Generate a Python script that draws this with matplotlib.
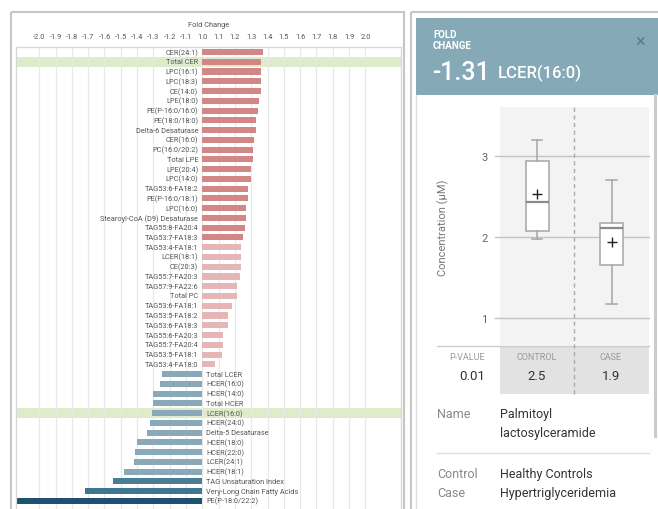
import matplotlib
matplotlib.use("Agg")
import matplotlib.pyplot as plt
from matplotlib.patches import Rectangle

plt.rcParams['font.family'] = ['Roboto', 'DejaVu Sans']

# fold change rows, top to bottom
pos_labels = ["CER(24:1)", "Total CER", "LPC(16:1)", "LPC(18:3)", "CE(14:0)", "LPE(18:0)",
              "PE(P-16:0/16:0)", "PE(18:0/18:0)", "Delta-6 Desaturase", "CER(16:0)",
              "PC(16:0/20:2)", "Total LPE", "LPE(20:4)", "LPC(14:0)", "TAG53:6-FA18:2",
              "PE(P-16:0/18:1)", "LPC(16:0)", "Stearoyl-CoA (D9) Desaturase", "TAG55:8-FA20:4",
              "TAG53:7-FA18:3", "TAG53:4-FA18:1", "LCER(18:1)", "CE(20:3)", "TAG55:7-FA20:3",
              "TAG57:9-FA22:6", "Total PC", "TAG53:6-FA18:1", "TAG53:5-FA18:2", "TAG53:6-FA18:3",
              "TAG55:6-FA20:3", "TAG55:7-FA20:4", "TAG53:5-FA18:1", "TAG53:4-FA18:0"]
pos_values = [1.37, 1.36, 1.36, 1.36, 1.36, 1.35, 1.34, 1.33, 1.33, 1.32, 1.31, 1.31, 1.30,
              1.30, 1.28, 1.28, 1.27, 1.27, 1.26, 1.25, 1.24, 1.24, 1.24, 1.23, 1.21, 1.21,
              1.18, 1.16, 1.16, 1.13, 1.13, 1.12, 1.08]
pos_signif = [True] * 20 + [False] * 13

neg_labels = ["Total LCER", "HCER(16:0)", "HCER(14:0)", "Total HCER", "LCER(16:0)", "HCER(24:0)",
              "Delta-5 Desaturase", "HCER(18:0)", "HCER(22:0)", "LCER(24:1)", "HCER(18:1)",
              "TAG Unsaturation Index", "Very-Long Chain Fatty Acids", "PE(P-18:0/22:2)"]
neg_values = [-1.25, -1.26, -1.30, -1.30, -1.31, -1.32, -1.34, -1.40, -1.41, -1.42, -1.48,
              -1.55, -1.72, -2.14]
neg_shade = [0] * 11 + [1, 2, 3]

highlight = ["Total CER", "LCER(16:0)"]
tick_vals = [-2.0, -1.9, -1.8, -1.7, -1.6, -1.5, -1.4, -1.3, -1.2, -1.1,
             1.0, 1.1, 1.2, 1.3, 1.4, 1.5, 1.6, 1.7, 1.8, 1.9, 2.0]

# selected metabolite: box plot summary
groups = ["CONTROL", "CASE"]
box_stats = [
    dict(whislo=1.98, q1=2.08, med=2.44, q3=2.94, whishi=3.20, mean=2.53),
    dict(whislo=1.17, q1=1.66, med=2.11, q3=2.18, whishi=2.71, mean=1.94),
]
sel_name = "LCER(16:0)"
sel_fc = "-1.31"
p_value = "0.01"
group_means = ["2.5", "1.9"]

W, H = 658, 510


def rect(x0, y0, x1, y1):
    return [x0 / W, 1 - y1 / H, (x1 - x0) / W, (y1 - y0) / H]


def fc_pos(v):
    # fold changes below -1 and above 1 meet at the centre line
    return v - 1 if v > 0 else v + 1


fig = plt.figure(figsize=(W / 100, H / 100), dpi=100)

# frame / panel decorations in pixel coordinates
bg = fig.add_axes([0, 0, 1, 1])
bg.set_xlim(0, W)
bg.set_ylim(H, 0)
bg.axis("off")
bg.add_patch(Rectangle((10.5, 12.5), 393.5, 520, fill=False, ec="#c6c6c6", lw=1.5))
bg.add_patch(Rectangle((410.5, 12.5), 260, 520, fill=False, ec="#c6c6c6", lw=1.5))
bg.plot([416, 416], [96, 520], color="#dddddd", lw=1)
bg.add_patch(Rectangle((416, 19), 250, 77, color="#85a9b6", lw=0))
bg.plot([655, 655], [96, 437], color="#cccccc", lw=2.2)
bg.text(433, 35, "FOLD", color="white", fontsize=7, fontweight="bold", va="center")
bg.text(433, 46, "CHANGE", color="white", fontsize=7, fontweight="bold", va="center")
bg.text(432, 73, sel_fc, color="white", fontsize=18, fontweight="medium", va="center")
bg.text(498, 73, sel_name, color="white", fontsize=12, fontweight="medium", va="center")
bg.text(640, 42, "\u00d7", color="#5f7a84", fontsize=13, ha="center", va="center")

# table under the box plot
bg.add_patch(Rectangle((500, 347), 148.7, 48, color="#e2e2e2", lw=0))
bg.plot([437, 648.7], [347, 347], color="#cccccc", lw=1)
bg.text(467, 358, "P-VALUE", color="#999999", fontsize=6.5, ha="center", va="center")
bg.text(485, 377, p_value, color="#333333", fontsize=9.5, ha="right", va="center")
for cx, g, m in zip([537, 611], groups, group_means):
    bg.text(cx, 358, g, color="#999999", fontsize=6.5, ha="center", va="center")
    bg.text(cx, 377, m, color="#333333", fontsize=9.5, ha="center", va="center")

bg.text(437, 415, "Name", color="#888888", fontsize=9, va="center")
bg.text(500, 415, "Palmitoyl", color="#333333", fontsize=9, va="center")
bg.text(500, 434, "lactosylceramide", color="#333333", fontsize=9, va="center")
bg.plot([437, 648.7], [454, 454], color="#dddddd", lw=1)
bg.text(437, 475, "Control", color="#888888", fontsize=9, va="center")
bg.text(500, 475, "Healthy Controls", color="#333333", fontsize=9, va="center")
bg.text(437, 494, "Case", color="#888888", fontsize=9, va="center")
bg.text(500, 494, "Hypertriglyceridemia", color="#333333", fontsize=9, va="center")

# ---- fold change bar chart ----
ax = fig.add_axes(rect(16, 48, 401, 510))
labels = pos_labels + neg_labels
values = pos_values + neg_values
pos_cols = ["#d28686" if s else "#e6b6b6" for s in pos_signif]
neg_palette = ["#89a9b8", "#4b7d95", "#3f7791", "#1e506f"]
colors = pos_cols + [neg_palette[s] for s in neg_shade]
ypos = list(range(len(labels)))

for lab, y in zip(labels, ypos):
    if lab in highlight:
        ax.axhspan(y - 0.5, y + 0.5, color="#dfecca", lw=0, zorder=0)

ticks = [fc_pos(t) if t != 1.0 else 0 for t in tick_vals]
for t in ticks:
    ax.axvline(t, color="#e8e8e8", lw=0.9, zorder=1)

ax.barh(ypos, [fc_pos(v) for v in values], height=0.62, color=colors, zorder=2)
for lab, y, v in zip(labels, ypos, values):
    if v > 0:
        ax.annotate(lab, (0, y), xytext=(-3, 0), textcoords="offset points",
                    ha="right", va="center", fontsize=5.3, color="#555555")
    else:
        ax.annotate(lab, (0, y), xytext=(3, 0), textcoords="offset points",
                    ha="left", va="center", fontsize=5.3, color="#555555")

ax.set_xlim((16 - 202.3) / 163, (401 - 202.3) / 163)
ax.set_ylim((510 - 53) / 9.76, -5 / 9.76)
ax.xaxis.tick_top()
ax.xaxis.set_label_position("top")
ax.set_xticks(ticks)
ax.set_xticklabels(["%.1f" % t for t in tick_vals])
ax.tick_params(axis="x", length=0, pad=5, labelsize=5.3, labelcolor="#555555")
ax.set_xlabel("Fold Change", fontsize=5.3, color="#555555", labelpad=5)
ax.set_yticks([])
for side in ["left", "right", "top"]:
    ax.spines[side].set_color("#d6d6d6")
    ax.spines[side].set_linewidth(0.9)
ax.spines["bottom"].set_visible(False)

# ---- box plot for the selected metabolite ----
bx = fig.add_axes(rect(500, 108.3, 648.7, 347))
bx.set_facecolor("#f3f3f3")
for y in [1, 2, 3]:
    bx.plot([-0.068, 2], [y, y], color="#c4c4c4", lw=1, clip_on=False, zorder=1)
bx.plot([1, 1], [0.061, 3.605], color="#aaaaaa", lw=1, ls=(0, (3, 2.5)), clip_on=False, zorder=1)

stats = [dict(s, label=g) for s, g in zip(box_stats, groups)]
bx.bxp(stats, positions=[0.5, 1.5], widths=0.31, capwidths=0.14, showmeans=True,
       patch_artist=True, showfliers=False,
       boxprops=dict(facecolor="white", edgecolor="#a6a6a6", lw=1.1),
       whiskerprops=dict(color="#a6a6a6", lw=1.1),
       capprops=dict(color="#a6a6a6", lw=1.1),
       medianprops=dict(color="#8a8a8a", lw=1.6),
       meanprops=dict(marker="+", markeredgecolor="#222222", markersize=7, markeredgewidth=1))
bx.set_xlim(0, 2)
bx.set_ylim(0.654, 3.605)
bx.set_xticks([])
bx.set_yticks([1, 2, 3])
bx.tick_params(axis="y", length=0, pad=9, labelsize=8, labelcolor="#666666")
bx.set_ylabel("Concentration (\u00b5M)", fontsize=8, color="#777777")
bx.yaxis.set_label_coords(-0.34, 0.5)
for s in bx.spines.values():
    s.set_visible(False)

fig.savefig("out.png", dpi=100)
